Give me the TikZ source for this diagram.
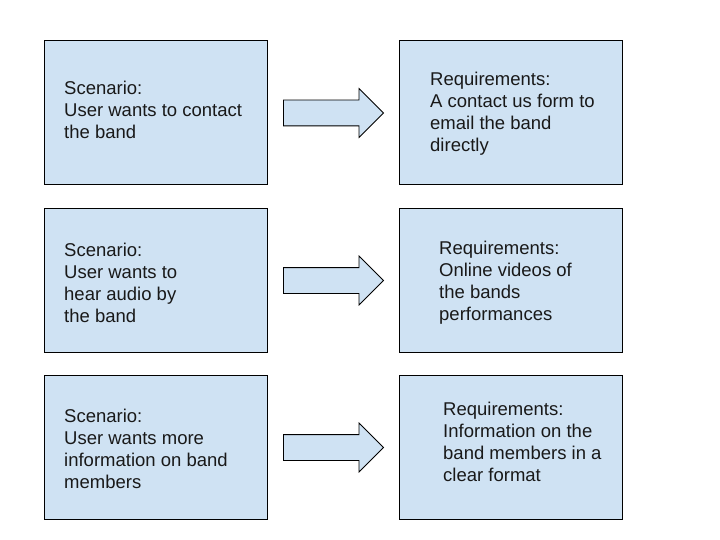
\documentclass[tikz,border=0pt]{standalone}
\usepackage{fontspec}
\setmainfont{Liberation Sans}
\usetikzlibrary{positioning}
\usetikzlibrary{calc}
\usetikzlibrary{shapes.arrows}
\definecolor{boxblue}{HTML}{CFE2F3}
\tikzset{
    card/.style={
           rectangle,
           draw=black, line width=1pt,
           fill=boxblue,
           minimum width=223pt,
           minimum height=144pt,
           inner sep=0pt,
           },
    words/.style={
              anchor=west,
              align=left,
              inner sep=0pt,
              text=black!90,
              font=\fontsize{18.5}{22}\selectfont
                  } ,
    fatarrow/.style={
                  single arrow,
                  draw=black, line width=0.8pt,
                  fill=boxblue,
                  minimum height=100pt,
                  inner xsep=0pt,
                  inner ysep=12.5pt,
                  single arrow head extend=11.5pt,
                  single arrow head indent=0pt,
                  xshift=-6pt
                  },
}
\begin{document}
\begin{tikzpicture}[x=1pt, y=-1pt, node distance=355pt, on grid]
   \useasboundingbox (0,0) rectangle (720,540);
   \node[card] (scen1) at (155.5,113) {};
   \node[card] (scen2) at (155.5,280.5) {};
   \node[card] (scen3) at (155.5,447.5) {};
   \node[card] (req1) [right=of scen1] {};
   \node[card] (req2) [right=of scen2] {};
   \node[card] (req3) [right=of scen3] {};

   \node[fatarrow] (go1) at ($(scen1)!0.5!(req1)$) {};
   \node[fatarrow] (go2) at ($(scen2)!0.5!(req2)$) {};
   \node[fatarrow] (go3) at ($(scen3)!0.5!(req3)$) {};

   % texts
   \node[words] (scen1txt) at (64,110) {Scenario:\\User wants to contact\\the band};
   \node[words] (scen2txt) at (64,283) {Scenario:\\User wants to\\hear audio by\\the band};
   \node[words] (scen3txt) at (64,449) {Scenario:\\User wants more\\information on band\\members};
   \node[words] (req1txt) at (430,113.5) {Requirements:\\A contact us form to\\email the band\\directly};
   \node[words] (req2txt) at (439,283) {Requirements:\\Online videos of\\the bands\\performances};
   \node[words] (req3txt) at (443,441.5) {Requirements:\\Information on the\\band members in a\\clear format};
\end{tikzpicture}
\end{document}
